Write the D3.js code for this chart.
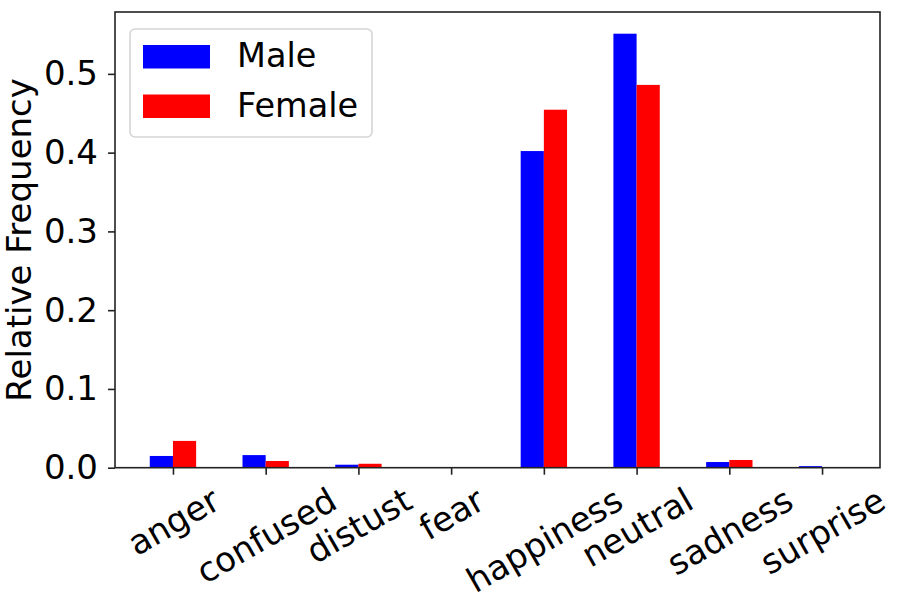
<!DOCTYPE html>
<html><head><meta charset="utf-8">
<script src="https://cdn.jsdelivr.net/npm/d3@7"></script>
<style>body{margin:0;background:#fff}text{font-family:"DejaVu Sans",sans-serif;fill:#000}</style>
</head><body>
<svg id="c" width="900" height="600"></svg>
<script>
const categories = ["anger","confused","distust","fear","happiness","neutral","sadness","surprise"];
const maleValues = [0.0149, 0.016, 0.0038, 0.0008, 0.402, 0.551, 0.0072, 0.002];
const femaleValues = [0.034, 0.0085, 0.005, 0.0002, 0.4545, 0.486, 0.0098, 0.0006];
const yTicks = [0.0, 0.1, 0.2, 0.3, 0.4, 0.5];
const seriesNames = ["Male", "Female"];
const seriesColors = ["#0000ff", "#ff0000"];

const FS = 34, LFS = 33.5;
const svg = d3.select("#c");
const L = 115, R = 880, T = 12, B = 467.7;
const barW = 0.25;
const x = d3.scaleLinear().domain([-0.625, 7.625]).range([L, R]);
const ymax = d3.max(maleValues.concat(femaleValues)) * 1.05;
const y = d3.scaleLinear().domain([0, ymax]).range([B, T]);

const series = [maleValues, femaleValues];
series.forEach((vals, si) => {
  svg.append("g").selectAll("rect").data(vals).join("rect")
    .attr("x", (d, i) => x(i + (si === 0 ? -barW : 0)))
    .attr("width", x(barW) - x(0))
    .attr("y", d => y(d))
    .attr("height", d => y(0) - y(d))
    .attr("fill", seriesColors[si]);
});

// frame
svg.append("rect").attr("x", L).attr("y", T).attr("width", R - L).attr("height", B - T)
  .attr("fill", "none").attr("stroke", "#222").attr("stroke-width", 1.6);

// y axis
const yAxis = d3.axisLeft(y).tickValues(yTicks).tickFormat(d3.format(".1f")).tickSize(7).tickPadding(10);
const gy = svg.append("g").attr("transform", `translate(${L},0)`).call(yAxis);
gy.select(".domain").remove();
gy.selectAll(".tick line").attr("stroke", "#222").attr("stroke-width", 1.6);
gy.selectAll(".tick text").attr("font-size", FS).attr("fill", "#000");

// x axis
const xAxis = d3.axisBottom(x).tickValues(d3.range(categories.length)).tickFormat(i => categories[i]).tickSize(7).tickPadding(7);
const gx = svg.append("g").attr("transform", `translate(0,${B})`).call(xAxis);
gx.select(".domain").remove();
gx.selectAll(".tick line").attr("stroke", "#222").attr("stroke-width", 1.6);
gx.selectAll(".tick text").each(function() {
  const t = d3.select(this);
  t.attr("font-size", FS).attr("fill", "#000")
   .attr("dy", null).attr("y", 0).attr("text-anchor", "middle").attr("dominant-baseline", "central");
  const w = this.getComputedTextLength();
  const h = FS * 1.16;
  const a = Math.PI / 6;
  const halfH = (w * Math.sin(a) + h * Math.cos(a)) / 2;
  const cy = 7 + 5 + halfH;
  t.attr("transform", `translate(0,${cy}) rotate(-30)`);
});

// y label
svg.append("text").attr("transform", `translate(31,${(T + B) / 2}) rotate(-90)`)
  .attr("text-anchor", "middle").attr("font-size", FS).text("Relative Frequency");

// legend
const lg = svg.append("g");
lg.append("rect").attr("x", 130).attr("y", 29).attr("width", 242).attr("height", 108)
  .attr("rx", 5).attr("fill", "#fff").attr("fill-opacity", 0.8).attr("stroke", "#d5d5d5").attr("stroke-width", 1.6);
seriesNames.forEach((n, i) => {
  lg.append("rect").attr("x", 143).attr("y", 45 + i * 49.5).attr("width", 67).attr("height", 23.5).attr("fill", seriesColors[i]);
  lg.append("text").attr("x", 237).attr("y", 67 + i * 49.5).attr("font-size", LFS).text(n);
});
</script>
</body></html>
